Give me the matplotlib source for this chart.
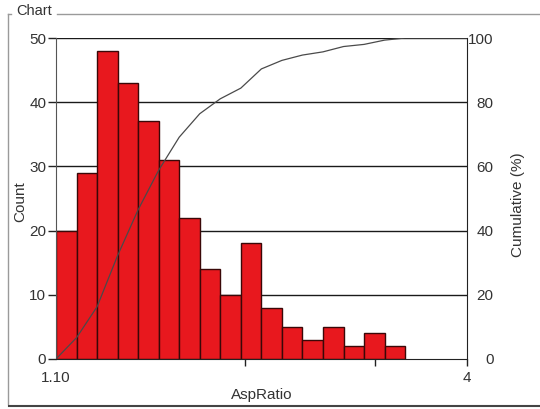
#!/usr/bin/env python3
import numpy as np
import matplotlib.pyplot as plt
from matplotlib.lines import Line2D

plt.rcParams['font.family'] = ['Liberation Sans', 'DejaVu Sans']
plt.rcParams['font.size'] = 11

# histogram of AspRatio
counts = [20, 29, 48, 43, 37, 31, 22, 14, 10, 18, 8, 5, 3, 5, 2, 4, 2]
bin_start = 1.10
bin_width = 0.1449
x_min, x_max = 1.10, 4.0
count_ticks = [0, 10, 20, 30, 40, 50]
pct_ticks = [0, 20, 40, 60, 80, 100]
x_ticks = [1.10, 2.434, 3.351, 4.0]
x_ticklabels = ['1.10', '', '', '4']

W, H = 540, 409
AX_L, AX_R, AX_T, AX_B = 56, 467, 38, 359
text_col = '#333333'


def fx(px):
    return px / W


def fy(py):
    return 1 - py / H


def ax_x(px):
    # pixel column -> axes fraction
    return (px - AX_L) / (AX_R - AX_L)


fig = plt.figure(figsize=(W / 100, H / 100), dpi=100)
ax = fig.add_axes([fx(AX_L), fy(AX_B), fx(AX_R) - fx(AX_L), fy(AX_T) - fy(AX_B)])

edges = bin_start + bin_width * np.arange(len(counts) + 1)
ax.bar(edges[:-1], counts, width=bin_width, align='edge',
       color='#e8181e', edgecolor='#3a0808', linewidth=1.0, zorder=2)

ax.set_xlim(x_min, x_max)
ax.set_ylim(0, 50)
ax.set_yticks(count_ticks)
for y in count_ticks[1:]:
    ax.axhline(y, color='#1a1a1a', lw=1.0, zorder=1)

ax.set_xticks(x_ticks)
ax.set_xticklabels(x_ticklabels)
ax.tick_params(axis='x', length=5, width=1, color='#222222', pad=4,
               labelcolor=text_col)
ax.xaxis.get_major_ticks()[0].tick1line.set_visible(False)
ax.tick_params(axis='y', length=6, width=1, color='#222222', pad=1,
               labelcolor=text_col)
for s in ['top', 'right']:
    ax.spines[s].set_visible(False)
ax.spines['left'].set_color('#555555')
ax.spines['bottom'].set_color('#222222')
ax.set_xlabel('AspRatio', color=text_col, labelpad=2)
ax.set_ylabel('Count', color=text_col)
ax.yaxis.set_label_coords(ax_x(27), 0.49)

# cumulative percentage line
ax2 = ax.twinx()
cum = np.concatenate([[0], np.cumsum(counts)]) / np.sum(counts) * 100
cx = np.concatenate([edges, [x_max]])
cy = np.concatenate([cum, [100]])
ax2.plot(cx, cy, color='#4a4a4a', lw=0.9, zorder=3)
ax2.set_ylim(0, 100)
ax2.set_yticks(pct_ticks)
ax2.tick_params(axis='y', length=0, pad=19, labelcolor=text_col)
for lab in ax2.get_yticklabels():
    lab.set_horizontalalignment('right')
for s in ['top', 'left', 'bottom']:
    ax2.spines[s].set_visible(False)
ax2.spines['right'].set_color('#222222')
ax2.set_ylabel('Cumulative (%)', color=text_col)
ax2.yaxis.set_label_coords(ax_x(511), 0.48)

# group box around the chart
frame = dict(transform=fig.transFigure, color='#9a9a9a', lw=1.0)
fig.add_artist(Line2D([fx(7.5), fx(7.5)], [fy(14), fy(404)], **frame))
fig.add_artist(Line2D([fx(7.5), fx(11)], [fy(14), fy(14)], **frame))
fig.add_artist(Line2D([fx(57), fx(540)], [fy(14), fy(14)], **frame))
fig.add_artist(Line2D([fx(9), fx(540)], [fy(405.5), fy(405.5)],
                      transform=fig.transFigure, color='#444444', lw=1.5))
fig.text(fx(16), fy(11), 'Chart', ha='left', va='center',
         color=text_col, fontsize=10.5)

fig.savefig('out.png', dpi=100, facecolor='white')
